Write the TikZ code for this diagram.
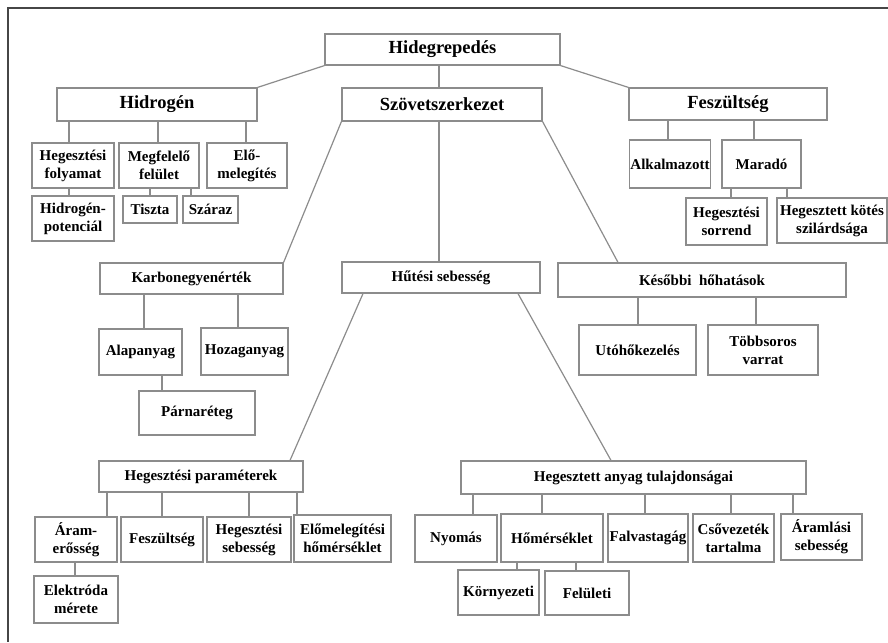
\documentclass[tikz,border=0pt]{standalone}
\usepackage{fontspec}
\setmainfont{Liberation Serif}
\usepackage{tikz}
\usepackage{xcolor}
\definecolor{boxgray}{RGB}{140,140,140}
\definecolor{framegray}{RGB}{70,70,70}
\tikzset{
    top-box/.style = {draw=boxgray, fill=white, line width=1.2pt, rectangle, inner sep=1pt, align=center, font=\fontsize{18.5}{22}\selectfont\bfseries},
    sub-box/.style = {draw=boxgray, fill=white, line width=1.2pt, rectangle, inner sep=1pt, align=center, font=\fontsize{15}{18}\selectfont\bfseries},
    link/.style = {draw=boxgray, line width=1.2pt},
    frame-line/.style = {draw=framegray, line width=2pt},
}

\begin{document}
\begin{tikzpicture}[x=1pt, y=-1pt]
\useasboundingbox (0,0) rectangle (888,642);
\draw[frame-line] (888,8) -- (8,8) -- (8,642);

% level 1 and 2
\node[top-box, minimum width=235, minimum height=31] (hideg) at (442.5,49.5) {Hidegrepedés};
\node[top-box, minimum width=200, minimum height=33] (hidrogen) at (157,104.5) {Hidrogén};
\node[top-box, minimum width=200, minimum height=33] (szovet) at (442,104.5) {Szövetszerkezet};
\node[top-box, minimum width=198, minimum height=32] (fesz) at (728,104) {Feszültség};

% Hidrogén branch
\node[sub-box, minimum width=82, minimum height=45] (hfoly) at (73,165.5) {Hegesztési\\folyamat};
\node[sub-box, minimum width=80, minimum height=45] (megf) at (159,165.5) {Megfelelő\\felület};
\node[sub-box, minimum width=80, minimum height=45] (elomel) at (247,165.5) {Elő-\\melegítés};
\node[sub-box, minimum width=82, minimum height=45] (hpot) at (73,218.5) {Hidrogén-\\potenciál};
\node[sub-box, minimum width=54, minimum height=27] (tiszta) at (150,209.5) {Tiszta};
\node[sub-box, minimum width=55, minimum height=27] (szaraz) at (210.5,209.5) {Száraz};

% Feszültség branch
\node[sub-box, minimum width=80, minimum height=48] (alk) at (670,164) {Alkalmazott};
\node[sub-box, minimum width=79, minimum height=48] (marado) at (761.5,164) {Maradó};
\node[sub-box, minimum width=81, minimum height=47] (hsorr) at (726.5,221.5) {Hegesztési\\sorrend};
\node[sub-box, minimum width=110, minimum height=45] (hkotes) at (832,220.5) {Hegesztett kötés\\szilárdsága};

% Szövetszerkezet branch
\node[sub-box, minimum width=183, minimum height=31] (karbon) at (191.5,278.5) {Karbonegyenérték};
\node[sub-box, minimum width=198, minimum height=31] (hutesi) at (441,277.5) {Hűtési sebesség};
\node[sub-box, minimum width=288, minimum height=34] (kesobbi) at (702,280) {Későbbi\ \ hőhatások};
\node[sub-box, minimum width=83, minimum height=46] (alap) at (140.5,352) {Alapanyag};
\node[sub-box, minimum width=87, minimum height=47] (hozag) at (244.5,351.5) {Hozaganyag};
\node[sub-box, minimum width=116, minimum height=44] (parna) at (197,413) {Párnaréteg};
\node[sub-box, minimum width=117, minimum height=50] (utoho) at (637.5,350) {Utóhőkezelés};
\node[sub-box, minimum width=110, minimum height=50] (tobb) at (763,350) {Többsoros\\varrat};

% Hűtési sebesség branch
\node[sub-box, minimum width=204, minimum height=31] (hparam) at (201,476.5) {Hegesztési paraméterek};
\node[sub-box, minimum width=345, minimum height=33] (hanyag) at (633.5,477.5) {Hegesztett anyag tulajdonságai};
\node[sub-box, minimum width=82, minimum height=45] (aram) at (76,539.5) {Áram-\\erősség};
\node[sub-box, minimum width=82, minimum height=45] (feszp) at (162,539.5) {Feszültség};
\node[sub-box, minimum width=84, minimum height=45] (hseb) at (249,539.5) {Hegesztési\\sebesség};
\node[sub-box, minimum width=97, minimum height=47] (elohom) at (342.5,538.5) {Előmelegítési\\hőmérséklet};
\node[sub-box, minimum width=84, minimum height=47] (elektr) at (76,599.5) {Elektróda\\mérete};
\node[sub-box, minimum width=82, minimum height=47] (nyomas) at (456,538.5) {Nyomás};
\node[sub-box, minimum width=102, minimum height=48] (homers) at (552,538) {Hőmérséklet};
\node[sub-box, minimum width=80, minimum height=48] (falv) at (648,538) {Falvastagág};
\node[sub-box, minimum width=81, minimum height=48] (csov) at (733.5,538) {Csővezeték\\tartalma};
\node[sub-box, minimum width=81, minimum height=46] (aramlasi) at (821.5,537) {Áramlási\\sebesség};
\node[sub-box, minimum width=81, minimum height=45] (korny) at (498.5,592.5) {Környezeti};
\node[sub-box, minimum width=84, minimum height=44] (feluleti) at (587,593) {Felületi};

% connectors from the top
\draw[link] (hideg.south west) -- (hidrogen.north east);
\draw[link] (hideg.south -| 439,0) -- (szovet.north -| 439,0);
\draw[link] (hideg.south east) -- (fesz.north west);

\draw[link] (hidrogen.south -| 69,0) -- (hfoly.north -| 69,0);
\draw[link] (hidrogen.south -| 158,0) -- (megf.north -| 158,0);
\draw[link] (hidrogen.south -| 246,0) -- (elomel.north -| 246,0);
\draw[link] (hfoly.south -| 69,0) -- (hpot.north -| 69,0);
\draw[link] (megf.south -| 150,0) -- (tiszta.north -| 150,0);
\draw[link] (megf.south -| 191,0) -- (szaraz.north -| 191,0);

\draw[link] (fesz.south -| 668,0) -- (alk.north -| 668,0);
\draw[link] (fesz.south -| 754,0) -- (marado.north -| 754,0);
\draw[link] (marado.south -| 731,0) -- (hsorr.north -| 731,0);
\draw[link] (marado.south -| 787,0) -- (hkotes.north -| 787,0);

\draw[link] (szovet.south west) -- (karbon.north east);
\draw[link] (szovet.south -| 439,0) -- (hutesi.north -| 439,0);
\draw[link] (szovet.south east) -- (kesobbi.north -| 618,0);

\draw[link] (karbon.south -| 144,0) -- (alap.north -| 144,0);
\draw[link] (karbon.south -| 238,0) -- (hozag.north -| 238,0);
\draw[link] (alap.south -| 162,0) -- (parna.north -| 162,0);
\draw[link] (kesobbi.south -| 638,0) -- (utoho.north -| 638,0);
\draw[link] (kesobbi.south -| 756,0) -- (tobb.north -| 756,0);

\draw[link] (hutesi.south -| 363,0) -- (hparam.north -| 290,0);
\draw[link] (hutesi.south -| 518,0) -- (hanyag.north -| 611,0);

\draw[link] (hparam.south -| 107,0) -- (aram.north -| 107,0);
\draw[link] (hparam.south -| 162,0) -- (feszp.north -| 162,0);
\draw[link] (hparam.south -| 249,0) -- (hseb.north -| 249,0);
\draw[link] (hparam.south -| 297,0) -- (elohom.north -| 297,0);
\draw[link] (aram.south -| 75,0) -- (elektr.north -| 75,0);

\draw[link] (hanyag.south -| 473,0) -- (nyomas.north -| 473,0);
\draw[link] (hanyag.south -| 542,0) -- (homers.north -| 542,0);
\draw[link] (hanyag.south -| 645,0) -- (falv.north -| 645,0);
\draw[link] (hanyag.south -| 731,0) -- (csov.north -| 731,0);
\draw[link] (hanyag.south -| 793,0) -- (aramlasi.north -| 793,0);
\draw[link] (homers.south -| 517,0) -- (korny.north -| 517,0);
\draw[link] (homers.south -| 576,0) -- (feluleti.north -| 576,0);
\end{tikzpicture}
\end{document}
